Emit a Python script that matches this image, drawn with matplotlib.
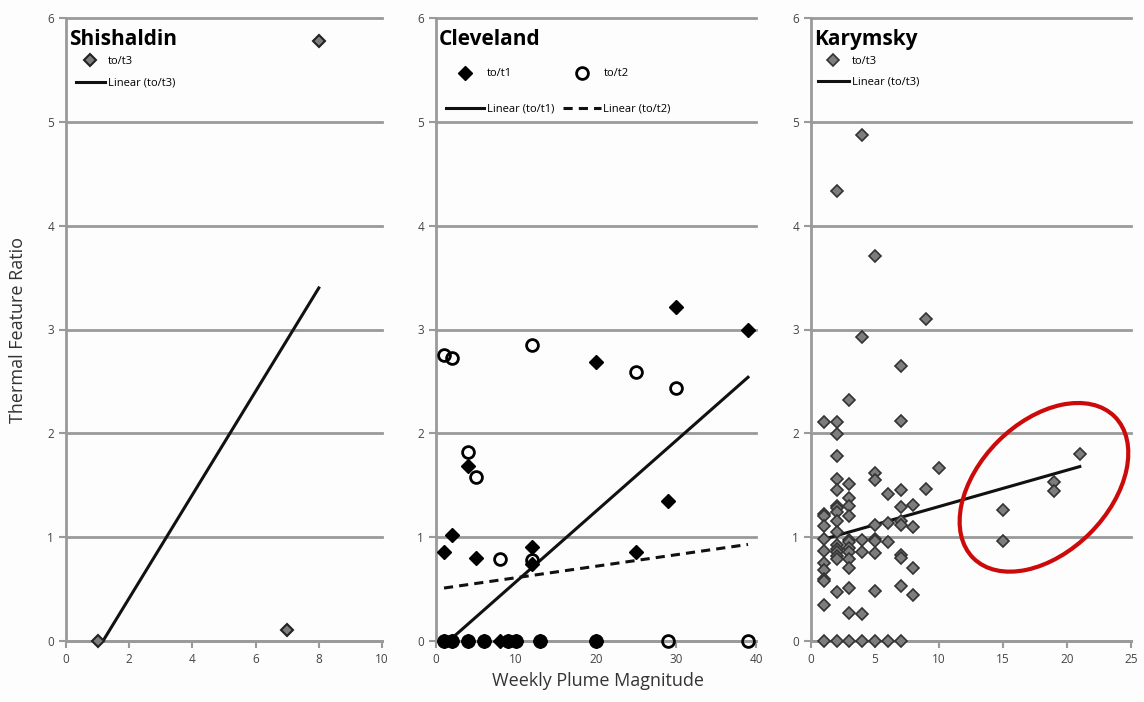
""" Thermal feature ratio vs weekly plume magnitude
    for Shishaldin, Cleveland and Karymsky.
"""

import matplotlib
matplotlib.use('Agg')
import matplotlib.pyplot as plt
from matplotlib.lines import Line2D
from matplotlib.patches import Ellipse
from matplotlib.transforms import ScaledTranslation

plt.rcParams['font.family'] = ['Open Sans', 'DejaVu Sans']

# ----------------------------------------------------------------------------
# Data
# ----------------------------------------------------------------------------

shis_x = [1, 7, 8]
shis_y = [0.0, 0.11, 5.78]
shis_fit_x = [1.17, 8]
shis_fit_y = [0.0, 3.40]

clev_t1_x = [1, 2, 4, 5, 12, 12, 20, 25, 29, 30, 39,
             1, 2, 4, 6, 8, 9, 10, 13, 20]
clev_t1_y = [0.86, 1.02, 1.69, 0.80, 0.91, 0.74, 2.69, 0.86, 1.35, 3.22, 3.00,
             0, 0, 0, 0, 0, 0, 0, 0, 0]
clev_t2_x = [1, 2, 4, 5, 8, 12, 12, 25, 30, 29, 39,
             1, 2, 4, 6, 9, 10, 13, 20]
clev_t2_y = [2.75, 2.73, 1.82, 1.58, 0.79, 2.85, 0.78, 2.59, 2.44, 0, 0,
             0, 0, 0, 0, 0, 0, 0, 0]
clev_fit1_x = [1.6, 39]
clev_fit1_y = [0.0, 2.54]
clev_fit2_x = [1, 39]
clev_fit2_y = [0.51, 0.93]

kary_x = [1]*12 + [2]*18 + [3]*14 + [4]*6 + [5]*9 + [6]*4 + [7]*10 \
         + [8]*4 + [9]*2 + [10] + [15]*2 + [19]*2 + [21]
kary_y = [2.11, 1.22, 1.20, 1.11, 0.98, 0.87, 0.75, 0.68, 0.60, 0.58, 0.35, 0,
          4.33, 2.11, 1.99, 1.78, 1.56, 1.45, 1.30, 1.28, 1.24, 1.16, 1.05,
          0.92, 0.89, 0.86, 0.82, 0.79, 0.47, 0,
          2.32, 1.51, 1.38, 1.30, 1.20, 0.97, 0.95, 0.90, 0.86, 0.79, 0.70,
          0.51, 0.27, 0,
          4.87, 2.93, 0.97, 0.86, 0.26, 0,
          3.71, 1.62, 1.55, 1.12, 0.98, 0.96, 0.85, 0.48, 0,
          1.42, 1.14, 0.95, 0,
          2.65, 2.12, 1.45, 1.29, 1.16, 1.12, 0.83, 0.80, 0.53, 0,
          1.31, 1.10, 0.70, 0.44,
          3.10, 1.46,
          1.67,
          1.26, 0.96,
          1.53, 1.44,
          1.80]
kary_fit_x = [1, 21]
kary_fit_y = [0.98, 1.68]

names = ['Shishaldin', 'Cleveland', 'Karymsky']
xlims = [(0, 10), (0, 40), (0, 25)]
xticks = [range(0, 11, 2), range(0, 41, 10), range(0, 26, 5)]

# ----------------------------------------------------------------------------
# Figure
# ----------------------------------------------------------------------------

fig = plt.figure(figsize=(11.44, 7.02), dpi=100)
fig.patch.set_facecolor('#fdfdfd')
lefts = [66, 436, 811]
widths = [316, 320, 320]
axes = [fig.add_axes([l/1144, 61/702, w/1144, 623/702])
        for l, w in zip(lefts, widths)]

grey = '#9a9a9a'
for ax, name, xl, xt in zip(axes, names, xlims, xticks):
    ax.set_facecolor('none')
    ax.set_xlim(*xl)
    ax.set_ylim(0, 6)
    ax.set_xticks(list(xt))
    ax.set_yticks(range(7))
    for s in ['top', 'right']:
        ax.spines[s].set_visible(False)
    for s in ['left', 'bottom']:
        ax.spines[s].set_color(grey)
        ax.spines[s].set_linewidth(2)
    ax.set_axisbelow(True)
    ax.tick_params(colors=grey, width=1.5, length=5, labelsize=8.5,
                   labelcolor='#444444')
    ax.text(0.01, 0.966, name, transform=ax.transAxes, fontsize=15,
            fontweight='bold', va='center', ha='left')
    for y in range(7):
        ax.axhline(y, color=grey, linewidth=2, zorder=0.5, clip_on=False)

ax1, ax2, ax3 = axes

# Shishaldin
ax1.plot(shis_fit_x, shis_fit_y, '-', color='#111111', linewidth=2.2,
         label='Linear (to/t3)', zorder=3)
ax1.plot(shis_x, shis_y, 'D', markersize=6.5, markerfacecolor='#7d7d7d',
         markeredgecolor='#222222', markeredgewidth=1.5, label='to/t3',
         zorder=4, clip_on=False)
h, l = ax1.get_legend_handles_labels()
ax1.legend(h[::-1], l[::-1], loc='upper left', bbox_to_anchor=(0.0, 0.955),
           frameon=False, fontsize=8, handlelength=2.6, labelspacing=0.95,
           handletextpad=0.25)

# Cleveland
ax2.plot(clev_fit1_x, clev_fit1_y, '-', color='#111111', linewidth=2.2,
         zorder=3)
ax2.plot(clev_fit2_x, clev_fit2_y, '--', color='#111111', linewidth=2.2,
         dashes=(3, 2), zorder=3)
ax2.plot(clev_t1_x, clev_t1_y, 'D', markersize=7, color='black',
         zorder=4, clip_on=False)
ax2.plot(clev_t2_x, clev_t2_y, 'o', markersize=8.5, markerfacecolor='none',
         markeredgecolor='black', markeredgewidth=2, zorder=4, clip_on=False)
handles = [Line2D([], [], marker='D', linestyle='none', markersize=7,
                  color='black'),
           Line2D([], [], color='#111111', linewidth=2.2),
           Line2D([], [], marker='o', linestyle='none', markersize=8.5,
                  markerfacecolor='none', markeredgecolor='black',
                  markeredgewidth=2),
           Line2D([], [], color='#111111', linewidth=2.2, linestyle='--',
                  dashes=(3, 2))]
labels = ['to/t1', 'Linear (to/t1)', 'to/t2', 'Linear (to/t2)']
ax2.legend(handles, labels, loc='upper left', bbox_to_anchor=(0.0, 0.935),
           ncol=2, frameon=False, fontsize=8, handlelength=3.4,
           labelspacing=2.2, handletextpad=0.25, columnspacing=0.8)

# Karymsky
ax3.plot(kary_fit_x, kary_fit_y, '-', color='#111111', linewidth=2.2,
         label='Linear (to/t3)', zorder=3)
ax3.plot(kary_x, kary_y, 'D', markersize=6.5, markerfacecolor='#7d7d7d',
         markeredgecolor='#333333', markeredgewidth=1.2, label='to/t3',
         zorder=4, clip_on=False)
h, l = ax3.get_legend_handles_labels()
ax3.legend(h[::-1], l[::-1], loc='upper left', bbox_to_anchor=(-0.01, 0.955),
           frameon=False, fontsize=8, handlelength=2.8, labelspacing=0.85,
           handletextpad=0.25)

# red ellipse round the large plume weeks (size in inches)
ell = Ellipse((0, 0), 2.0, 1.3, angle=45, fill=False, edgecolor='#cc0a0a',
              linewidth=3, transform=fig.dpi_scale_trans
              + ScaledTranslation(18.2, 1.48, ax3.transData), zorder=5,
              clip_on=False)
ax3.add_patch(ell)

fig.text(0.016, 0.53, 'Thermal Feature Ratio', rotation=90, ha='center',
         va='center', fontsize=13, color='#333333')
fig.text(0.523, 0.017, 'Weekly Plume Magnitude', ha='center', va='bottom',
         fontsize=13, color='#333333')

fig.savefig('out.png', dpi=100, facecolor=fig.get_facecolor())
